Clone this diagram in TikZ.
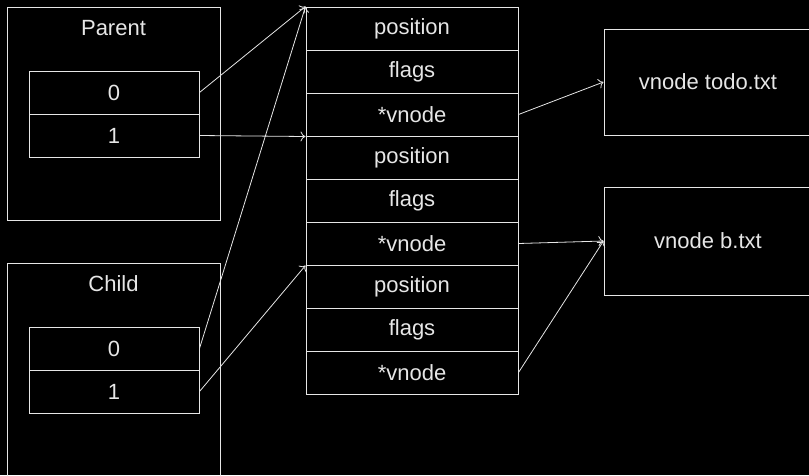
\documentclass[tikz,border=0pt]{standalone}
\usepackage{fontspec}
\setmainfont{Liberation Sans}
\usetikzlibrary{arrows.meta}
\definecolor{fg}{HTML}{E6E6E6}
\begin{document}
\begin{tikzpicture}[x=1pt,y=-1pt,
  cell/.style={draw=fg,line width=1pt,text=fg,inner sep=0pt,font=\fontsize{22}{26}\selectfont},
  frame/.style={draw=fg,line width=1pt,inner sep=0pt},
  lbl/.style={text=fg,font=\fontsize{22}{26}\selectfont},
  arr/.style={draw=fg,line width=0.8pt,-{To[length=5pt,width=10pt]}}]
\fill[black] (0,0) rectangle (809,475);
\useasboundingbox (0,0) rectangle (809,475);
% Parent
\draw[frame] (7,7) rectangle (220,220);
\node[lbl] (ptitle) at (113.5,28) {Parent};
\node[cell,minimum width=170pt,minimum height=43pt] (p0) at (114,92.5) {0};
\node[cell,minimum width=170pt,minimum height=43pt] (p1) at (114,135.5) {1};
% Child
\draw[frame] (7,263) rectangle (220,480);
\node[lbl] (ctitle) at (113.5,284) {Child};
\node[cell,minimum width=170pt,minimum height=43pt] (c0) at (114,348.5) {0};
\node[cell,minimum width=170pt,minimum height=43pt] (c1) at (114,391.5) {1};
% File table
\foreach \i/\t in {1/position,2/flags,3/*vnode,4/position,5/flags,6/*vnode,7/position,8/flags,9/*vnode}{
  \node[cell,minimum width=212pt,minimum height=43pt] (r\i) at (412,{7+43*(\i-1)+21.5}) {\t};
}
% vnodes
\node[cell,minimum width=208pt,minimum height=106pt] (vt) at (708,82) {vnode todo.txt};
\node[cell,minimum width=208pt,minimum height=108pt] (vb) at (708,241) {vnode b.txt};
% arrows
\draw[arr] (p0.east) -- (r1.north west);
\draw[arr] (p1.east) -- (r3.south west);
\draw[arr] (c0.east) -- (r1.north west);
\draw[arr] (c1.east) -- (r6.south west);
\draw[arr] (r3.east) -- (vt.west);
\draw[arr] (r6.east) -- (vb.west);
\draw[arr] (r9.east) -- (vb.west);
\end{tikzpicture}
\end{document}
